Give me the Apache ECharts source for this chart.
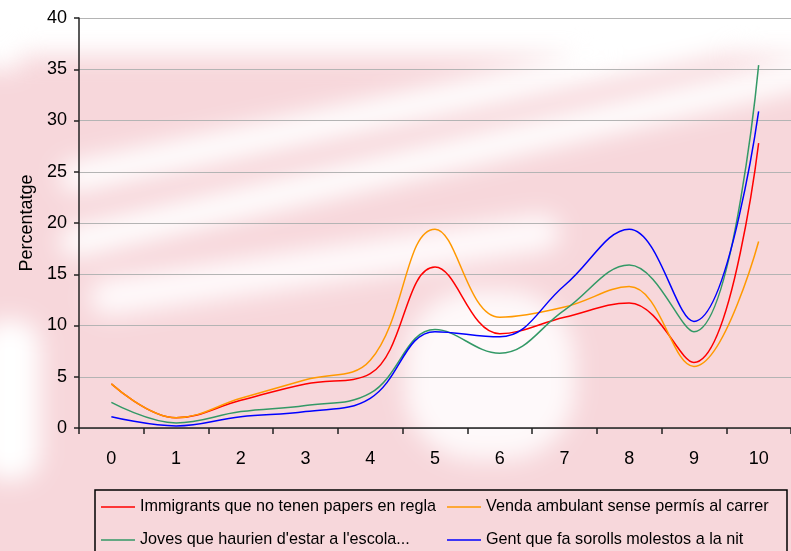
<!DOCTYPE html>
<html>
<head>
<meta charset="utf-8">
<script src="https://cdn.jsdelivr.net/npm/echarts@6/dist/echarts.min.js"></script>
<style>
  html, body { margin: 0; padding: 0; }
  .root { position: relative; width: 791px; height: 551px; overflow: hidden; background: #fff; }
  .bg { position: absolute; left: 0; top: 0; width: 791px; height: 551px; filter: blur(12px); }
  .bg div { position: absolute; }
  .block { position: absolute; left: 0; top: 0; width: 791px; height: 551px; }
</style>
</head>
<body>
<div class="root">
  <!-- faded flag watermark behind the chart -->
  <div class="bg" id="bg"></div>
  <div class="block" id="chart"></div>
</div>
<script>
  const categories = ['0', '1', '2', '3', '4', '5', '6', '7', '8', '9', '10'];
  const seriesNames = [
    'Immigrants que no tenen papers en regla',
    'Venda ambulant sense permís al carrer',
    "Joves que haurien d'estar a l'escola...",
    'Gent que fa sorolls molestos a la nit'
  ];
  const immigrants = [4.3, 1.0, 2.7, 4.3, 5.3, 15.7, 9.2, 10.8, 12.2, 6.4, 27.8];
  const venda = [4.3, 1.0, 2.9, 4.7, 6.6, 19.4, 10.8, 11.8, 13.8, 6.0, 18.2];
  const joves = [2.5, 0.5, 1.6, 2.2, 3.4, 9.6, 7.3, 11.5, 15.9, 9.4, 35.4];
  const gent = [1.1, 0.2, 1.1, 1.6, 2.9, 9.4, 8.9, 13.9, 19.4, 10.4, 30.9];
  const colors = ['#ff0000', '#ff9900', '#339966', '#0000ff'];

  const font = 'Arial, "Liberation Sans", sans-serif';

  // background: pink field with soft white stripes
  const bg = document.getElementById('bg');
  function box(x, y, w, h, color, extra) {
    let d = document.createElement('div');
    d.style.cssText = 'left:' + x + 'px;top:' + y + 'px;width:' + w + 'px;height:' + h + 'px;background:' + color + ';' + (extra || '');
    bg.appendChild(d);
  }
  function stripe(x1, y1, x2, y2, h, color, extra) {
    let len = Math.hypot(x2 - x1, y2 - y1);
    let ang = Math.atan2(y2 - y1, x2 - x1) * 180 / Math.PI;
    box(x1, y1 - h / 2, len, h, color, 'transform-origin:0 50%;transform:rotate(' + ang + 'deg);border-radius:' + h / 2 + 'px;' + (extra || ''));
  }
  box(-40, 55, 900, 560, '#f7d7db');
  box(-40, -60, 900, 110, '#fff');
  stripe(60, 180, 820, 20, 30, '#fff');
  stripe(60, 245, 820, 70, 30, '#fff');
  stripe(90, 300, 560, 230, 36, '#fff', 'opacity:0.9;');
  box(405, 290, 170, 170, '#fff', 'border-radius:70px;opacity:0.85;');
  box(-20, 320, 60, 160, '#fff', 'border-radius:25px;');
  box(-20, -20, 40, 90, '#fff');

  function line(name, data, color) {
    return {
      name: name,
      type: 'line',
      data: data,
      smooth: 0.4,
      symbol: 'none',
      lineStyle: { color: color, width: 1.5 },
      itemStyle: { color: color }
    };
  }

  const legendText = { fontSize: 16.2, color: '#000', fontFamily: font, lineHeight: 20 };

  let chart = echarts.init(document.getElementById('chart'));
  let option = {
    backgroundColor: 'transparent',
    animation: false,
    grid: { left: 79, right: -5, top: 18, bottom: 123 },
    legend: [{
      data: [seriesNames[0], seriesNames[2]],
      orient: 'vertical',
      left: 101,
      top: 497,
      padding: 0,
      icon: 'rect',
      itemWidth: 34,
      itemHeight: 1.5,
      itemGap: 13,
      textStyle: legendText
    }, {
      data: [seriesNames[1], seriesNames[3]],
      orient: 'vertical',
      left: 447,
      top: 497,
      padding: 0,
      icon: 'rect',
      itemWidth: 34,
      itemHeight: 1.5,
      itemGap: 13,
      textStyle: legendText
    }],
    xAxis: {
      type: 'category',
      data: categories,
      boundaryGap: true,
      axisLine: { lineStyle: { color: '#222', width: 1.5 } },
      axisTick: { show: true, length: 6, lineStyle: { color: '#222', width: 1.5 } },
      axisLabel: { fontSize: 18, color: '#000', fontFamily: font, margin: 22 }
    },
    yAxis: {
      type: 'value',
      min: 0,
      max: 40,
      interval: 5,
      name: 'Percentatge',
      nameLocation: 'middle',
      nameGap: 42,
      nameTextStyle: { fontSize: 18, color: '#000', fontFamily: font },
      axisLine: { show: true, lineStyle: { color: '#222', width: 1.5 } },
      axisTick: { show: true, length: 5, lineStyle: { color: '#222', width: 1.5 } },
      axisLabel: { fontSize: 18, color: '#000', fontFamily: font, margin: 12 },
      splitLine: { lineStyle: { color: '#b4b4b4', width: 1.2 } }
    },
    graphic: [{
      type: 'rect',
      shape: { x: 95, y: 490, width: 692, height: 80 },
      style: { fill: 'none', stroke: '#000', lineWidth: 1.5 },
      silent: true
    }],
    series: [
      line(seriesNames[0], immigrants, colors[0]),
      line(seriesNames[1], venda, colors[1]),
      line(seriesNames[2], joves, colors[2]),
      line(seriesNames[3], gent, colors[3])
    ]
  };
  chart.setOption(option);
</script>
</body>
</html>
